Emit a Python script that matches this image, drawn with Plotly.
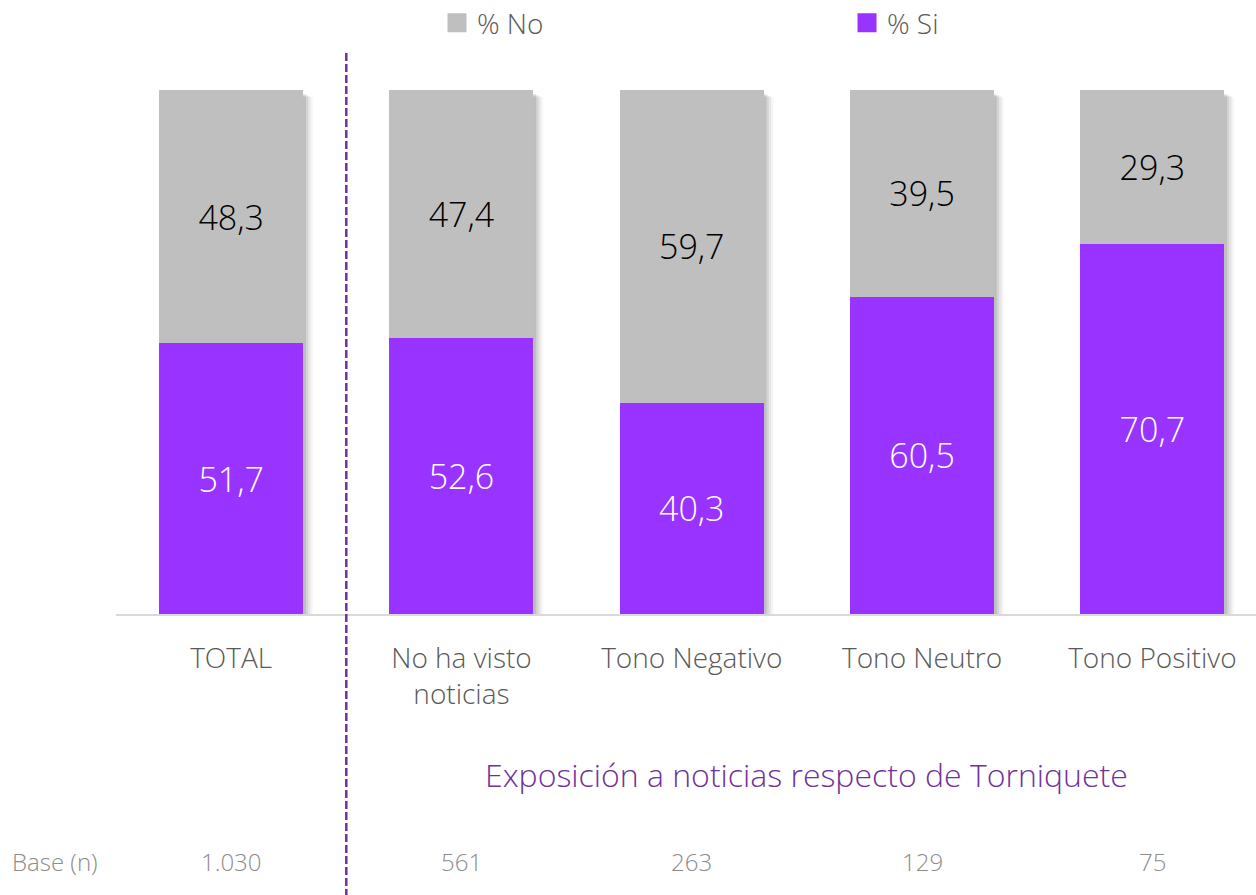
import plotly.graph_objects as go

categories = ["TOTAL", "No ha visto<br>noticias", "Tono Negativo", "Tono Neutro", "Tono Positivo"]
si_values = [51.7, 52.6, 40.3, 60.5, 70.7]
no_values = [48.3, 47.4, 59.7, 39.5, 29.3]
base_n = ["1.030", "561", "263", "129", "75"]
title_group = "Exposición a noticias respecto de Torniquete"

FONT = "Open Sans"
W = 300
PURPLE = "#9933FF"
GREY = "#BFBFBF"
DARK_PURPLE = "#7030A0"
BAR_W = 0.625

xs = list(range(len(categories)))

fig = go.Figure()

# soft shadows behind bars (derived from data positions)
for i, (s, n) in enumerate(zip(si_values, no_values)):
    total = s + n
    for k, op in enumerate([0.10, 0.08, 0.06, 0.04]):
        off = 0.012 + k * 0.010
        fig.add_shape(type="rect", xref="x", yref="y",
                      x0=i - BAR_W / 2 + off, x1=i + BAR_W / 2 + off,
                      y0=-0.4 - k * 0.35, y1=total - 0.8 - k * 0.2,
                      fillcolor="rgba(0,0,0,%.2f)" % op, line_width=0, layer="below")

fig.add_trace(go.Bar(
    x=xs, y=si_values, name="% Si", marker_color=PURPLE, width=BAR_W,
    text=[f"{v:.1f}".replace(".", ",") for v in si_values],
    textposition="inside", insidetextanchor="middle",
    textfont=dict(family=FONT, size=34, color="white", weight=W),
    marker_line_width=0, showlegend=False,
))
fig.add_trace(go.Bar(
    x=xs, y=no_values, name="% No", marker_color=GREY, width=BAR_W,
    text=[f"{v:.1f}".replace(".", ",") for v in no_values],
    textposition="inside", insidetextanchor="middle",
    textfont=dict(family=FONT, size=34, color="black", weight=W),
    marker_line_width=0, showlegend=False,
))

# legend entries (square markers)
fig.add_trace(go.Scatter(x=[None], y=[None], mode="markers", name="% No",
                         marker=dict(symbol="square", size=16, color=GREY,
                                     line=dict(color=GREY, width=3)), legend="legend"))
fig.add_trace(go.Scatter(x=[None], y=[None], mode="markers", name="% Si",
                         marker=dict(symbol="square", size=16, color=PURPLE,
                                     line=dict(color=PURPLE, width=3)), legend="legend2"))

# dashed separator between TOTAL and the groups
fig.add_shape(type="line", xref="x", yref="paper", x0=0.5, x1=0.5, y0=-0.54, y1=1.076,
              line=dict(color=DARK_PURPLE, width=2.5, dash="8px,3px"))

# group title
fig.add_annotation(x=2.5, xref="x", y=-0.307, yref="paper", text=title_group, showarrow=False,
                   font=dict(family=FONT, size=32, color=DARK_PURPLE, weight=W), yanchor="middle")

# base row
fig.add_annotation(x=-0.093, xref="paper", xanchor="left", y=-0.473, yref="paper", yanchor="middle",
                   text="Base (n)", showarrow=False,
                   font=dict(family=FONT, size=24, color="#8C8C8C", weight=W))
for i, b in enumerate(base_n):
    fig.add_annotation(x=i, xref="x", y=-0.473, yref="paper", text=b, showarrow=False,
                       font=dict(family=FONT, size=24, color="#8C8C8C", weight=W), yanchor="middle")

leg_common = dict(orientation="h", yref="container", y=1 - 23 / 895, yanchor="middle", xanchor="left",
                  font=dict(family=FONT, size=28, color="#595959", weight=W),
                  itemsizing="trace", bgcolor="rgba(0,0,0,0)")

fig.update_layout(
    barmode="stack",
    width=1256, height=895,
    margin=dict(l=116, r=0, t=90, b=281, autoexpand=False),
    plot_bgcolor="white", paper_bgcolor="white",
    font=dict(family=FONT, color="#595959", weight=W),
    showlegend=True,
    legend=dict(x=(437 - 116) / 1140, **leg_common),
    legend2=dict(x=(847 - 116) / 1140, **leg_common),
    xaxis=dict(range=[-0.5, 4.45], tickvals=xs, ticktext=categories,
               tickfont=dict(family=FONT, size=28, color="#595959", weight=W),
               showgrid=False, zeroline=False, showline=True, linecolor="#D9D9D9",
               linewidth=2, ticks="", ticklabelstandoff=18),
    yaxis=dict(range=[0, 100], visible=False, showgrid=False, zeroline=False),
)

fig.write_html("out.html", config={"displayModeBar": False},
               post_script="document.body.style.margin='0';document.body.style.overflow='hidden';")
